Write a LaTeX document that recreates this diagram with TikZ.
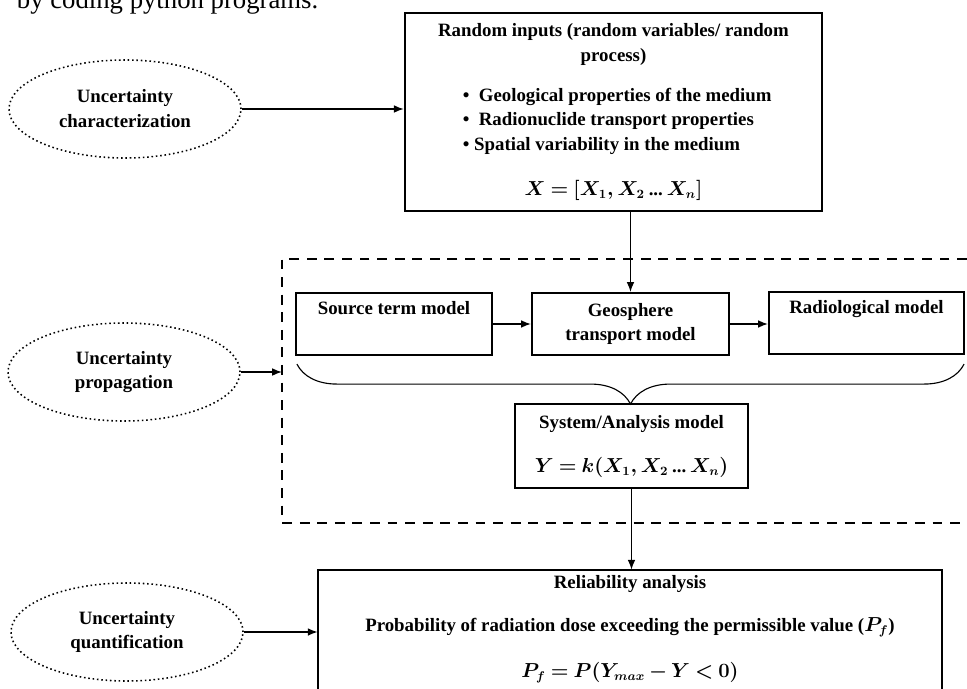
\documentclass[tikz,border=0pt]{standalone}
\usepackage{amsmath}
\usepackage{fontspec}
\setmainfont{Liberation Serif}
\usepackage{tikz}
\usetikzlibrary{shapes.geometric,decorations.pathreplacing,arrows.meta}

\newcommand\fml[1]{{\thickmuskip=4mu\medmuskip=3mu$#1$}}
\newcommand\dd{\,\text{...}\,}

\tikzset{
  txt/.style={font=\fontsize{13.4}{17.7}\selectfont\bfseries\boldmath, align=center},
  uncert/.style={txt, ellipse, draw, line width=1.1pt, dotted, minimum width=5.8cm, minimum height=2.45cm, inner sep=0pt},
  blk/.style={txt, draw, line width=1.5pt, inner sep=0pt},
  box/.style={line width=1.5pt},
  arr/.style={line width=1pt, -{Latex[length=7pt,width=5.5pt]}},
  frame/.style={line width=1.4pt, dash pattern=on 7pt off 5.5pt},
  brc/.style={decorate, decoration={brace, amplitude=1cm, mirror}, line width=0.8pt},
}

\begin{document}
\begin{tikzpicture}[x=0.025cm,y=-0.025cm]
\useasboundingbox (0,0) rectangle (967,689);
\node[anchor=base west,font=\fontsize{19}{22}\selectfont] (intro) at (12,9) {by coding python programs.};

% uncertainty steps
\node[uncert] (charac) at (125,109) {Uncertainty\\characterization};
\node[uncert] (propag) at (124,372) {Uncertainty\\propagation};
\node[uncert] (quant) at (127,632) {Uncertainty\\quantification};

% random inputs
\node[blk,minimum width=10.43cm,minimum height=4.95cm] (inputs) at (613.5,112) {Random inputs (random variables/ random\\process)\\[10.7pt]
\makebox[7.53cm][l]{\textbullet~~Geological properties of the medium}\\
\makebox[7.53cm][l]{\textbullet~~Radionuclide transport properties}\\
\makebox[7.53cm][l]{\textbullet~Spatial variability in the medium}\\[14.3pt]
\fml{X=[X_1,X_2\dd X_n]}};

% models
\draw[frame] (967,259) -- (282,259) -- (282,523) -- (967,523);
\coordinate (frameW) at (282,372);
\node[blk,minimum width=4.9cm,minimum height=1.55cm] (source) at (394,324) {Source term model\\\strut};
\node[blk,minimum width=4.925cm,minimum height=1.55cm] (geo) at (630.5,324) {Geosphere\\transport model};
\node[blk,minimum width=4.875cm,minimum height=1.55cm] (radio) at (866.5,323) {Radiological model\\\strut};
\node[blk,minimum width=5.825cm,minimum height=2.1cm] (system) at (631.5,446) {System/Analysis model\\[13.6pt]\fml{Y=k(X_1,X_2\dd X_n)}};

% reliability
\node[txt,minimum width=15.6cm,minimum height=2.975cm,inner sep=0pt] (relia) at (630,629.5) {Reliability analysis\\[12.9pt]Probability of radiation dose exceeding the permissible value (\fml{P_f})\\[15pt]\fml{P_f=P(Y_{max}-Y<0)}};
\draw[box] (relia.south west) |- (relia.north east) -- (relia.south east);

\draw[arr] (charac.east) -- (charac.east -| inputs.west);
\draw[arr] (inputs.south -| geo.north) -- (geo.north);
\draw[arr] (propag.east) -- (frameW);
\draw[arr] (source) -- (geo);
\draw[arr] (geo.east) -- (geo.east -| radio.west);
\draw[brc] ([shift={(2,8)}]source.south west) -- ([shift={(-1,9)}]radio.south east);
\draw[arr] (system.south) -- (system.south |- relia.north);
\draw[arr] (quant.east) -- (quant.east -| relia.west);
\end{tikzpicture}
\end{document}
